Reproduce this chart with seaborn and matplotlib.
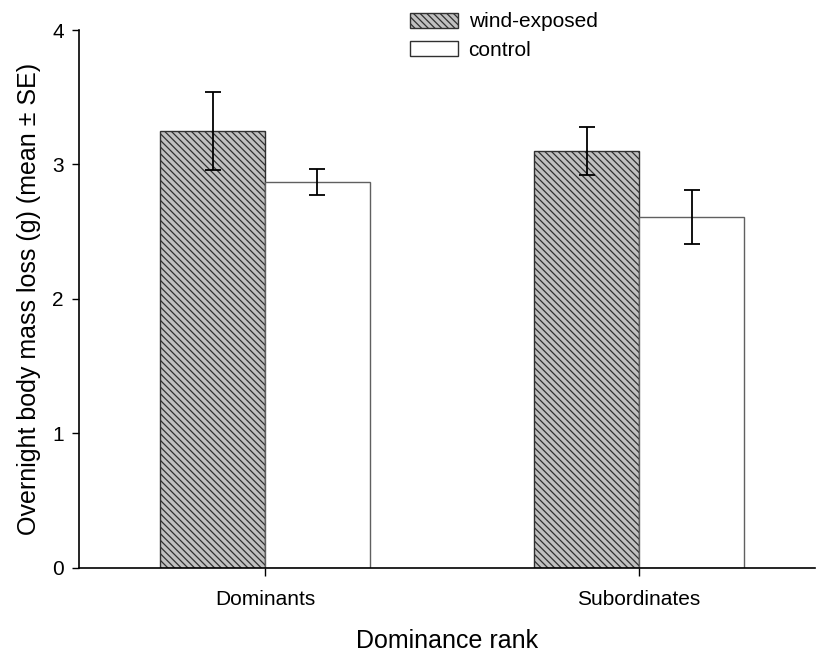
import numpy as np
import pandas as pd
import matplotlib
matplotlib.use("Agg")
import matplotlib.pyplot as plt
import seaborn as sns
from matplotlib.patches import Patch

# Data
ranks = ["Dominants", "Subordinates"]
treatments = ["wind-exposed", "control"]
wind_mean = [3.25, 3.10]
wind_se = [0.29, 0.18]
control_mean = [2.87, 2.61]
control_se = [0.10, 0.20]

df = pd.DataFrame({
    "rank": ranks * 2,
    "treatment": [treatments[0]] * 2 + [treatments[1]] * 2,
    "mass_loss": wind_mean + control_mean,
    "se": wind_se + control_se,
})

sns.set_style("ticks")
plt.rcParams["font.family"] = ["Liberation Sans", "DejaVu Sans"]
plt.rcParams["hatch.linewidth"] = 0.9
plt.rcParams["hatch.color"] = "black"
plt.rcParams["text.color"] = "black"
plt.rcParams["axes.labelcolor"] = "black"
plt.rcParams["xtick.color"] = "black"
plt.rcParams["ytick.color"] = "black"

HATCH = "\\\\\\\\\\"

fig = plt.figure(figsize=(8.16, 6.58), dpi=100)
ax = fig.add_axes([0.0968, 0.1368, 0.9020, 0.8176])

sns.barplot(
    data=df, x="rank", y="mass_loss", hue="treatment",
    order=ranks, hue_order=treatments,
    palette={"wind-exposed": "#c0c0c0", "control": "white"},
    width=0.56, errorbar=None, ax=ax, legend=False,
)

# style bars and add SE error bars
n = len(ranks)
for i, bar in enumerate(ax.patches[:2 * n]):
    if i < n:
        bar.set_hatch(HATCH)
        bar.set_edgecolor("#303030")
    else:
        bar.set_edgecolor("#606060")
    bar.set_linewidth(1.0)

xs = [b.get_x() + b.get_width() / 2 for b in ax.patches[:2 * n]]
ax.errorbar(xs, df["mass_loss"], yerr=df["se"], fmt="none",
            ecolor="black", elinewidth=1.3, capsize=6, capthick=1.3, zorder=5)

ax.set_xlim(-0.497, 1.47)
ax.set_ylim(0, 4)
ax.set_yticks([0, 1, 2, 3, 4])
ax.tick_params(axis="both", labelsize=15, direction="out", width=1.0)
ax.tick_params(axis="y", length=5, pad=6)
ax.tick_params(axis="x", length=6, pad=10)
for s in ["left", "bottom"]:
    ax.spines[s].set_linewidth(1.2)
    ax.spines[s].set_color("black")
sns.despine(ax=ax)

ax.set_xlabel("Dominance rank", fontsize=18, labelpad=14)
ax.set_ylabel("Overnight body mass loss (g) (mean ± SE)", fontsize=18, labelpad=8)

# legend
handles = [
    Patch(facecolor="#c0c0c0", edgecolor="#303030", hatch=HATCH, linewidth=1.0),
    Patch(facecolor="white", edgecolor="#303030", linewidth=1.0),
]
fig.legend(handles, treatments, loc="upper left", bbox_to_anchor=(0.490, 0.997),
           frameon=False, fontsize=15, handlelength=2.3, handleheight=0.72,
           handletextpad=0.5, borderpad=0, labelspacing=0.45)

fig.savefig("out.png", dpi=100)
